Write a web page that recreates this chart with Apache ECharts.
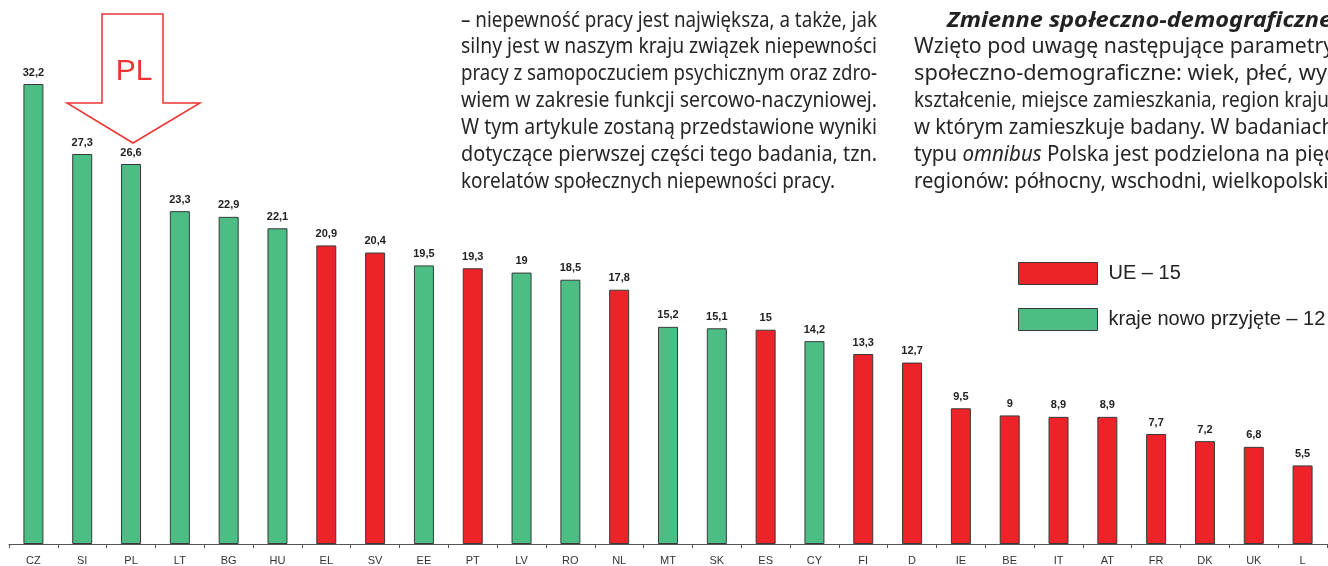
<!DOCTYPE html>
<html>
<head>
<meta charset="utf-8">
<style>
  html, body { margin: 0; padding: 0; background: #fff; }
  #chart { width: 1328px; height: 566px; }
</style>
<script src="https://cdn.jsdelivr.net/npm/echarts@6/dist/echarts.min.js"></script>
</head>
<body>
<div id="chart"></div>
<script>
  // kraje i wartości
  var categories = ['CZ', 'SI', 'PL', 'LT', 'BG', 'HU', 'EL', 'SV', 'EE', 'PT', 'LV', 'RO', 'NL', 'MT',
    'SK', 'ES', 'CY', 'FI', 'D', 'IE', 'BE', 'IT', 'AT', 'FR', 'DK', 'UK', 'L'];
  var values = [32.2, 27.3, 26.6, 23.3, 22.9, 22.1, 20.9, 20.4, 19.5, 19.3, 19, 18.5, 17.8, 15.2,
    15.1, 15, 14.2, 13.3, 12.7, 9.5, 9, 8.9, 8.9, 7.7, 7.2, 6.8, 5.5];
  // kraje nowo przyjęte (reszta to UE-15)
  var newMembers = ['CZ', 'SI', 'PL', 'LT', 'BG', 'HU', 'EE', 'LV', 'RO', 'MT', 'SK', 'CY'];
  var legendNames = ['UE – 15', 'kraje nowo przyjęte – 12'];

  // tekst artykułu wokół wykresu
  var midLines = [
    '– niepewność pracy jest największa, a także, jak',
    'silny jest w naszym kraju związek niepewności',
    'pracy z samopoczuciem psychicznym oraz zdro-',
    'wiem w zakresie funkcji sercowo-naczyniowej.',
    'W tym artykule zostaną przedstawione wyniki',
    'dotyczące pierwszej części tego badania, tzn.',
    'korelatów społecznych niepewności pracy.'
  ];
  var rightLines = [
    'Wzięto pod uwagę następujące parametry',
    'społeczno-demograficzne: wiek, płeć, wy-',
    'kształcenie, miejsce zamieszkania, region kraju,',
    'w którym zamieszkuje badany. W badaniach',
    ['typu ', 'omnibus', ' Polska jest podzielona na pięć'],
    'regionów: północny, wschodni, wielkopolski,'
  ];

  var ueData = [];
  var newData = [];
  categories.forEach(function (c, i) {
    if (newMembers.indexOf(c) >= 0) {
      newData.push(values[i]);
      ueData.push('-');
    } else {
      ueData.push(values[i]);
      newData.push('-');
    }
  });

  var RED = '#ee2229';
  var GREEN = '#4bbd85';
  var TXT = '#262626';

  var canvas = document.createElement('canvas');
  var ctx = canvas.getContext('2d');
  function measure(parts) {
    var w = 0;
    parts.forEach(function (p) {
      ctx.font = p.font;
      w += ctx.measureText(p.text).width;
    });
    return w;
  }

  var bodyFont = '21px "Noto Sans"';
  var italicFont = 'italic 21px "Noto Sans"';

  function textLine(line, x, y, width) {
    var parts;
    if (Array.isArray(line)) {
      parts = [
        { text: line[0], font: bodyFont },
        { text: line[1], font: italicFont },
        { text: line[2], font: bodyFont }
      ];
    } else {
      parts = [{ text: line, font: bodyFont }];
    }
    var sx = width / measure(parts);
    var style = {
      x: 0, y: 0,
      fill: TXT,
      font: bodyFont,
      textVerticalAlign: 'middle'
    };
    if (Array.isArray(line)) {
      style.text = line[0] + '{i|' + line[1] + '}' + line[2];
      style.rich = { i: { fontStyle: 'italic', fontSize: 21, fontFamily: 'Noto Sans', fill: TXT } };
    } else {
      style.text = line;
    }
    return { type: 'text', x: x, y: y, scaleX: sx, style: style, silent: true };
  }

  var graphics = [];
  var lineY = [21, 47, 74, 101, 128, 155, 182];
  midLines.forEach(function (l, i) {
    // ostatnia linia nie jest justowana
    graphics.push(textLine(l, 461, lineY[i], i < midLines.length - 1 ? 416 : 374));
  });
  // tytuł akapitu
  var head = 'Zmienne społeczno-demograficzne.';
  ctx.font = 'italic bold 21px "Noto Sans"';
  graphics.push({
    type: 'text', x: 947, y: 21, silent: true,
    scaleX: 392 / ctx.measureText(head).width,
    style: { text: head, font: 'italic bold 21px "Noto Sans"', fill: '#222', textVerticalAlign: 'middle' }
  });
  rightLines.forEach(function (l, i) {
    graphics.push(textLine(l, 914, lineY[i + 1], 420));
  });

  // strzałka PL
  graphics.push({
    type: 'polygon',
    silent: true,
    shape: { points: [[102, 14], [163, 14], [163, 103], [200, 103], [133, 143], [67, 103], [102, 103]] },
    style: { fill: 'none', stroke: '#ec3433', lineWidth: 1.5 }
  });
  graphics.push({
    type: 'text', x: 134, y: 72, silent: true,
    style: { text: 'PL', font: '30px "Liberation Sans"', fill: '#ec3433', textAlign: 'center', textVerticalAlign: 'middle' }
  });

  var labelOpt = {
    show: true,
    position: 'top',
    distance: 6,
    color: '#222',
    fontSize: 11,
    fontWeight: 'bold',
    fontFamily: 'Liberation Sans',
    formatter: function (p) { return String(p.value).replace('.', ','); }
  };

  var myChart = echarts.init(document.getElementById('chart'));
  var options = {
    animation: false,
    grid: { left: 9, right: 1, top: 44, bottom: 22 },
    legend: {
      orient: 'vertical',
      left: 1018,
      top: 262,
      padding: 0,
      itemWidth: 79,
      itemHeight: 22,
      itemGap: 23,
      icon: 'rect',
      data: legendNames,
      itemStyle: { borderWidth: 1, borderColor: '#3a3a3a' },
      textStyle: { fontSize: 20, color: '#222', fontFamily: 'Liberation Sans', padding: [0, 0, 0, 6] }
    },
    xAxis: {
      type: 'category',
      data: categories,
      axisLine: { lineStyle: { color: '#555', width: 1 } },
      axisTick: { show: true, length: 4, lineStyle: { color: '#555' } },
      axisLabel: { color: '#333', fontSize: 11, fontFamily: 'Liberation Sans', margin: 11, interval: 0 }
    },
    yAxis: {
      type: 'value',
      min: 0,
      max: 35,
      show: false,
      splitLine: { show: false }
    },
    series: [
      {
        name: legendNames[0],
        type: 'bar',
        stack: 'all',
        barWidth: 20,
        data: ueData,
        itemStyle: { color: RED, borderColor: '#3a3a3a', borderWidth: 1 },
        label: labelOpt
      },
      {
        name: legendNames[1],
        type: 'bar',
        stack: 'all',
        barWidth: 20,
        data: newData,
        itemStyle: { color: GREEN, borderColor: '#3a3a3a', borderWidth: 1 },
        label: labelOpt
      }
    ],
    graphic: graphics
  };
  myChart.setOption(options);
</script>
</body>
</html>
